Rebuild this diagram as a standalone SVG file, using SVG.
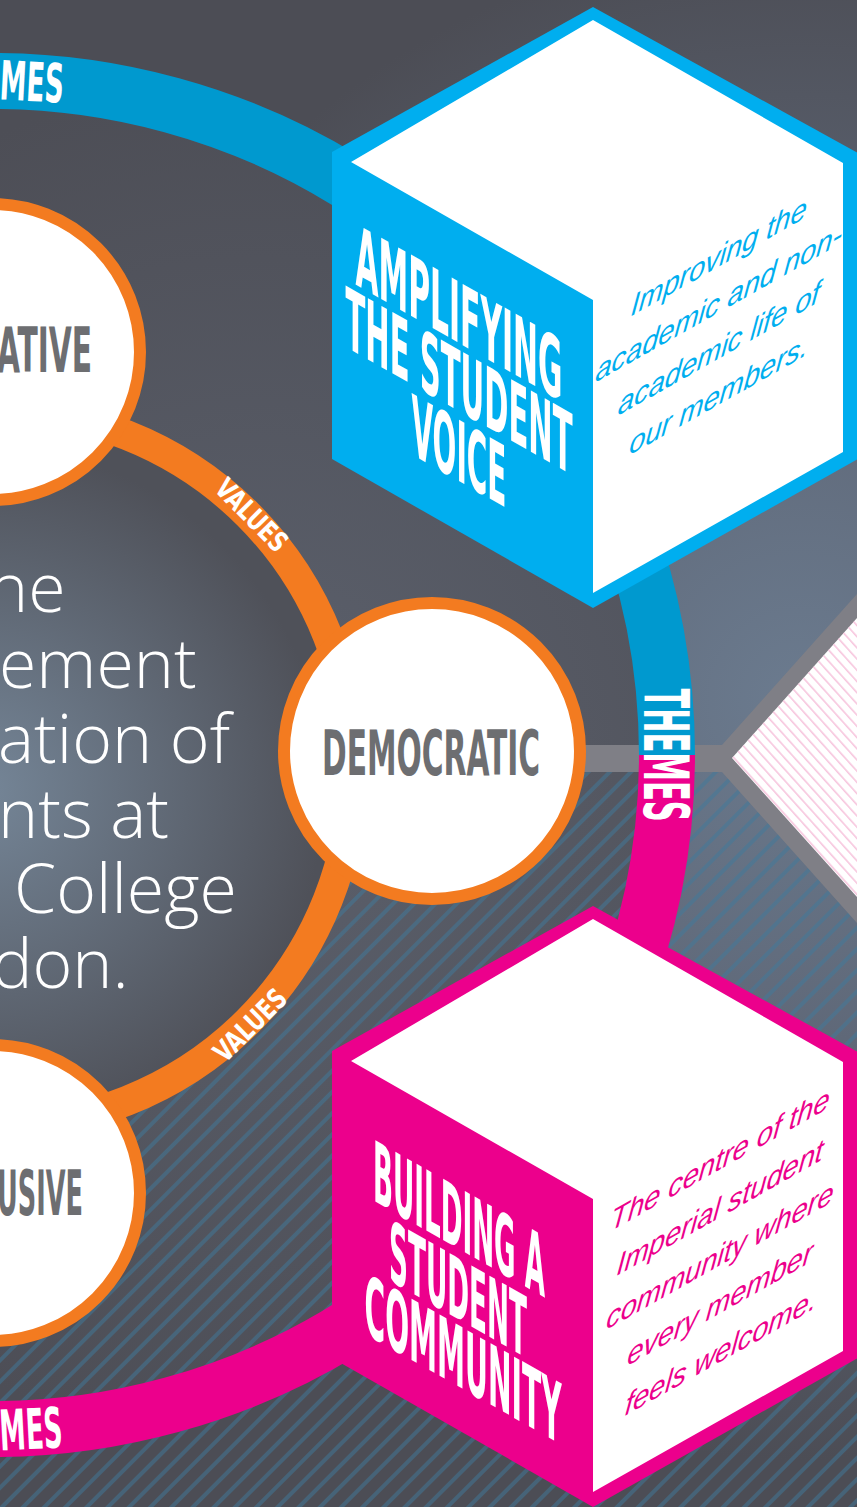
<svg xmlns="http://www.w3.org/2000/svg" width="857" height="1507" viewBox="0 0 857 1507">
<defs>
<style>
.cond{font-family:"Liberation Sans Narrow","DejaVu Sans","Liberation Sans",sans-serif;font-weight:700;font-stretch:condensed;}
.desc{font-family:"Liberation Sans","Helvetica",Arial,sans-serif;font-style:italic;font-size:29px;text-anchor:middle;}
.big{font-family:"Open Sans","Liberation Sans",sans-serif;font-weight:300;font-size:68px;fill:#FFFFFF;}
.node-circle{fill:#FFFFFF;stroke:#F37B20;stroke-width:12;}
.vlabel{fill:#6D6E71;font-size:63px;}
.white{fill:#FFFFFF;}
</style>
<radialGradient id="bgGrad" gradientUnits="userSpaceOnUse" cx="800" cy="700" r="760">
<stop offset="0" stop-color="#6B7B8F"/>
<stop offset="0.45" stop-color="#5F6878"/>
<stop offset="1" stop-color="#4C4D55"/>
</radialGradient>
<radialGradient id="ringGrad" gradientUnits="userSpaceOnUse" cx="260" cy="760" r="680">
<stop offset="0" stop-color="#5C616D"/>
<stop offset="1" stop-color="#4D4E56"/>
</radialGradient>
<radialGradient id="discGrad" gradientUnits="userSpaceOnUse" cx="-20" cy="790" r="345">
<stop offset="0" stop-color="#758698"/>
<stop offset="1" stop-color="#4F5159"/>
</radialGradient>
<pattern id="stripes" patternUnits="userSpaceOnUse" width="15" height="15" patternTransform="rotate(45)">
<rect x="0" y="0" width="4" height="15" fill="#3F7A9C" fill-opacity="0.5"/>
</pattern>
<pattern id="hatch" patternUnits="userSpaceOnUse" width="7.5" height="10" patternTransform="rotate(-42)">
<rect x="0" y="0" width="1.6" height="10" fill="#F7C6DE"/>
</pattern>
</defs>

<g id="background">
<rect x="0" y="0" width="857" height="1507" fill="url(#bgGrad)"/>
<circle cx="-7" cy="755" r="674" fill="url(#ringGrad)"/>
<rect x="0" y="758" width="857" height="749" fill="url(#stripes)"/>
</g>

<g id="mission">
<circle cx="-5" cy="768" r="344" fill="url(#discGrad)"/>
<text class="big"><tspan x="-12" y="612">he</tspan><tspan x="-1" y="688">ement</tspan><tspan x="-2" y="763">ation of</tspan><tspan x="-2" y="838">nts at</tspan><tspan x="14" y="913">College</tspan><tspan x="-8" y="988">don.</tspan></text>
</g>

<g id="connectors">
<circle cx="-5" cy="768" r="358" fill="none" stroke="#F37B20" stroke-width="30"/>
<g class="cond white" font-size="28">
<text transform="translate(252,515) rotate(45.4)" x="0" y="10" text-anchor="middle" textLength="90" lengthAdjust="spacingAndGlyphs">VALUES</text>
<text transform="translate(250,1025) rotate(-44.8)" x="0" y="10" text-anchor="middle" textLength="90" lengthAdjust="spacingAndGlyphs">VALUES</text>
</g>
<line x1="560" y1="758.5" x2="730" y2="758.5" stroke="#7F7F86" stroke-width="27"/>
<path d="M 667 755 A 674 674 0 0 0 -100 87.5" fill="none" stroke="#0099CF" stroke-width="56"/>
<path d="M 667 755 A 674 674 0 0 1 -100 1422.5" fill="none" stroke="#EC008C" stroke-width="56"/>
<g class="cond white">
<text transform="translate(666,755) rotate(90)" x="0" y="22" font-size="62" text-anchor="middle" textLength="133" lengthAdjust="spacingAndGlyphs">THEMES</text>
<text transform="translate(32,82) rotate(3)" x="0" y="19" font-size="54" text-anchor="middle" textLength="64" lengthAdjust="spacingAndGlyphs">MES</text>
<text transform="translate(31,1429) rotate(-3)" x="0" y="20" font-size="56" text-anchor="middle" textLength="63" lengthAdjust="spacingAndGlyphs">MES</text>
</g>
</g>

<g id="value-top">
<circle class="node-circle" cx="-8" cy="352" r="148"/>
<text class="cond vlabel" x="-3" y="372" textLength="95" lengthAdjust="spacingAndGlyphs">ATIVE</text>
</g>

<g id="value-democratic">
<circle class="node-circle" cx="432" cy="751" r="148"/>
<text class="cond vlabel" x="431" y="775" text-anchor="middle" textLength="218" lengthAdjust="spacingAndGlyphs">DEMOCRATIC</text>
</g>

<g id="value-bottom">
<circle class="node-circle" cx="-8" cy="1193" r="148"/>
<text class="cond vlabel" x="-3" y="1215" textLength="86" lengthAdjust="spacingAndGlyphs">USIVE</text>
</g>

<g id="theme-voice">
<polygon points="593,7 858,153 858,459 593,608 332,459 332,152" fill="#00AEEF"/>
<polygon points="593,20 843,163 843,452 593,593 593,300 351,162" fill="#FFFFFF"/>
<g class="cond white" font-size="84" text-anchor="middle">
<text transform="translate(459,343) skewY(29.5)" textLength="207" lengthAdjust="spacingAndGlyphs">AMPLIFYING</text>
<text transform="translate(459,411) skewY(29.5)" textLength="227" lengthAdjust="spacingAndGlyphs">THE STUDENT</text>
<text transform="translate(459,481) skewY(29.5)" textLength="95" lengthAdjust="spacingAndGlyphs">VOICE</text>
</g>
<g class="desc" fill="#00AEEF">
<text transform="translate(718,267) skewY(-29.5) skewX(-7)">Improving the</text>
<text transform="translate(718,313) skewY(-29.5) skewX(-7)">academic and non-</text>
<text transform="translate(718,359) skewY(-29.5) skewX(-7)">academic life of</text>
<text transform="translate(718,405) skewY(-29.5) skewX(-7)">our members.</text>
</g>
</g>

<g id="theme-community">
<polygon points="593,906 858,1052 858,1358 593,1507 332,1358 332,1051" fill="#EC008C"/>
<polygon points="593,919 843,1062 843,1351 593,1492 593,1199 351,1061" fill="#FFFFFF"/>
<g class="cond white" font-size="84" text-anchor="middle">
<text transform="translate(459,1249) skewY(29.5)" textLength="172" lengthAdjust="spacingAndGlyphs">BUILDING A</text>
<text transform="translate(458,1319) skewY(29.5)" textLength="138" lengthAdjust="spacingAndGlyphs">STUDENT</text>
<text transform="translate(463,1389) skewY(29.5)" textLength="197" lengthAdjust="spacingAndGlyphs">COMMUNITY</text>
</g>
<g class="desc" fill="#EC008C">
<text transform="translate(719,1170) skewY(-29.5) skewX(-7)">The centre of the</text>
<text transform="translate(719,1218) skewY(-29.5) skewX(-7)">Imperial student</text>
<text transform="translate(719,1266) skewY(-29.5) skewX(-7)">community where</text>
<text transform="translate(719,1314) skewY(-29.5) skewX(-7)">every member</text>
<text transform="translate(720,1362) skewY(-29.5) skewX(-7)">feels welcome.</text>
</g>
</g>

<g id="theme-partial">
<polygon points="700,745 722,745 858,593 858,924 722,772 700,772" fill="#7F7F86"/>
<polygon points="732,758 858,617 858,898" fill="#FFFFFF"/>
<polygon points="732,758 858,617 858,898" fill="url(#hatch)"/>
</g>
</svg>
